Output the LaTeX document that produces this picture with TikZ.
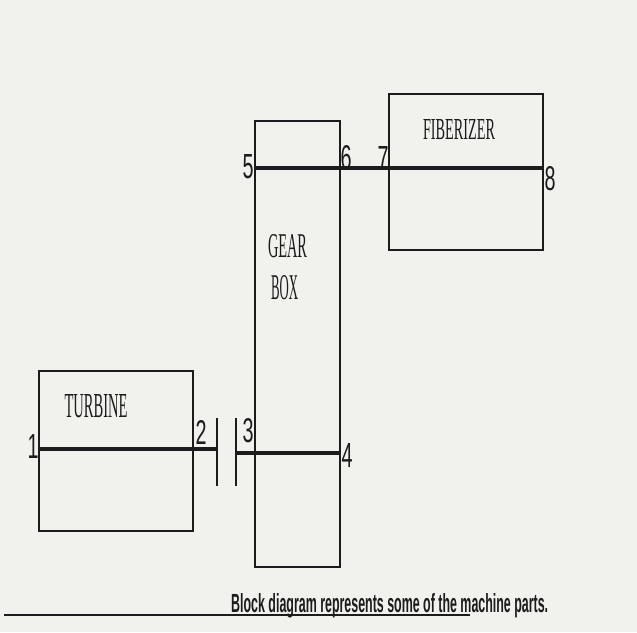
\documentclass[tikz,border=0pt]{standalone}
\usepackage{fontspec}
\setmainfont{Liberation Serif}
\newfontfamily\numfont{Liberation Sans}
\newfontfamily\capfont{Liberation Sans}
\definecolor{paper}{RGB}{241,241,237}
\definecolor{ink}{RGB}{28,28,28}
\tikzset{
  blockbox/.style={draw=ink, line width=1.9pt, rectangle, inner sep=0pt},
  shaft/.style={draw=ink, line width=3.4pt},
  coupling/.style={draw=ink, line width=1.8pt},
  numlabel/.style={inner sep=0pt, text=ink},
  namelabel/.style={inner sep=0pt, text=ink},
}
\newcommand{\numtxt}[1]{\resizebox{11pt}{24pt}{\numfont #1}}
\begin{document}
\begin{tikzpicture}[x=1pt,y=-1pt]
\fill[paper] (0,0) rectangle (637,632);
\useasboundingbox (0,0) rectangle (637,632);

% blocks
\node[blockbox, minimum width=154pt, minimum height=160pt] (turbine) at (116,451) {};
\node[blockbox, minimum width=85pt, minimum height=446pt] (gearbox) at (297.5,344) {};
\node[blockbox, minimum width=154pt, minimum height=156pt] (fiberizer) at (466,172) {};

% block names
\node[namelabel] (tname) at (96,406) {\resizebox{63pt}{23pt}{TURBINE}};
\node[namelabel] (gname1) at (287.5,246) {\resizebox{39pt}{23pt}{GEAR}};
\node[namelabel] (gname2) at (284.5,288) {\resizebox{27pt}{24pt}{BOX}};
\node[namelabel] (fname) at (459,130) {\resizebox{72pt}{20pt}{FIBERIZER}};

% shaft coordinates
\coordinate (p1) at (turbine.west |- 0,449);
\coordinate (p2) at (217,449);
\coordinate (p3) at (236,453);
\coordinate (p4) at (gearbox.east |- 0,453);
\coordinate (p5) at (gearbox.west |- 0,168);
\coordinate (p8) at (fiberizer.east |- 0,168);
\coordinate (c2t) at (217,418);
\coordinate (c2b) at (217,486);
\coordinate (c3t) at (236,418);
\coordinate (c3b) at (236,486);

% shafts
\draw[shaft] (p1) -- (p2);
\draw[shaft] (p3) -- (p4);
\draw[shaft] (p5) -- (p8);

% coupling halves
\draw[coupling] (c2t) -- (c2b);
\draw[coupling] (c3t) -- (c3b);

% numbers
\node[numlabel] (n1) at (33,446) {\numtxt{1}};
\node[numlabel] (n2) at (201,432) {\numtxt{2}};
\node[numlabel] (n3) at (248,431) {\numtxt{3}};
\node[numlabel] (n4) at (347,455) {\numtxt{4}};
\node[numlabel] (n5) at (248,167) {\numtxt{5}};
\node[numlabel] (n6) at (346,158) {\numtxt{6}};
\node[numlabel] (n7) at (383,158) {\numtxt{7}};
\node[numlabel] (n8) at (550,179) {\numtxt{8}};

% caption and rule
\coordinate (rl) at (4,615);
\coordinate (rr) at (470,615);
\draw[draw=ink, line width=2pt] (rl) -- (rr);
\node[namelabel, anchor=base west] (caption) at (231,612)
  {\resizebox{317pt}{19pt}{\capfont\bfseries Block diagram represents some of the machine parts.}};
\end{tikzpicture}
\end{document}
